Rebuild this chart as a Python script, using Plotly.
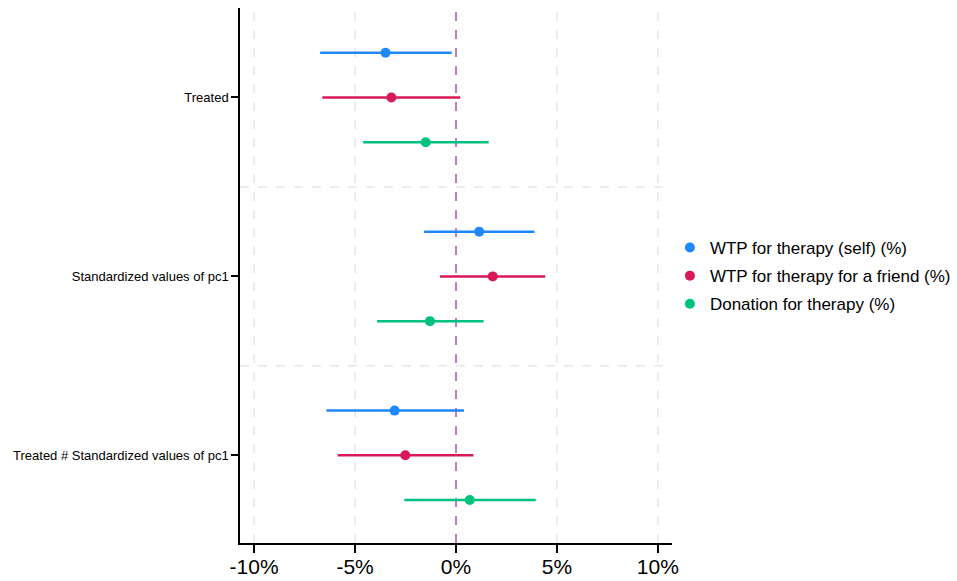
import plotly.graph_objects as go

categories = ["Treated", "Standardized values of pc1", "Treated # Standardized values of pc1"]
series_names = ["WTP for therapy (self) (%)", "WTP for therapy for a friend (%)", "Donation for therapy (%)"]
series_colors = ["#1f87ff", "#d9185a", "#00c280"]

# point estimates (%) per category, per series
est_self = [-3.49, 1.15, -3.04]
est_friend = [-3.20, 1.82, -2.51]
est_donation = [-1.50, -1.29, 0.68]

lo_self = [-6.73, -1.58, -6.42]
hi_self = [-0.21, 3.89, 0.40]
lo_friend = [-6.62, -0.79, -5.86]
hi_friend = [0.21, 4.42, 0.86]
lo_donation = [-4.60, -3.91, -2.56]
hi_donation = [1.62, 1.37, 3.95]

x_ticks = [-10, -5, 0, 5, 10]
x_tick_labels = ["-10%", "-5%", "0%", "5%", "10%"]

offsets = [-0.25, 0.0, 0.25]
ests = [est_self, est_friend, est_donation]
los = [lo_self, lo_friend, lo_donation]
his = [hi_self, hi_friend, hi_donation]

fig = go.Figure()
for k in range(3):
    ys = [i + offsets[k] for i in range(len(categories))]
    fig.add_trace(go.Scatter(
        x=ests[k], y=ys, mode="markers", name=series_names[k], legendgroup=f"g{k}",
        marker=dict(color=series_colors[k], size=10),
        error_x=dict(type="data", symmetric=False,
                     array=[h - e for h, e in zip(his[k], ests[k])],
                     arrayminus=[e - l for e, l in zip(ests[k], los[k])],
                     color=series_colors[k], thickness=2.5, width=0),
    ))

shapes = []
for t in x_ticks:
    if t == 0:
        continue
    shapes.append(dict(type="line", xref="x", yref="paper", x0=t, x1=t, y0=0, y1=1,
                       line=dict(color="#ececec", width=2, dash="dash"), layer="below"))
for yv in [0.5, 1.5]:
    shapes.append(dict(type="line", xref="paper", yref="y", x0=0, x1=0.995, y0=yv, y1=yv,
                       line=dict(color="#ececec", width=2, dash="dash"), layer="below"))
shapes.append(dict(type="line", xref="x", yref="paper", x0=0, x1=0, y0=0, y1=1,
                   line=dict(color="rgba(175,95,180,0.8)", width=2, dash="dash"), layer="below"))

fig.update_layout(
    width=957, height=581,
    margin=dict(l=240, r=285, t=8, b=38, autoexpand=False),
    paper_bgcolor="white", plot_bgcolor="white",
    font=dict(family="Liberation Sans, Arial, sans-serif", color="black"),
    shapes=shapes,
    showlegend=True,
    legend=dict(xref="container", yref="container", x=0.700, xanchor="left",
                y=0.525, yanchor="middle",
                font=dict(size=17), itemwidth=30, tracegroupgap=3,
                bgcolor="rgba(0,0,0,0)"),
    xaxis=dict(range=[-10.7, 10.7], tickvals=x_ticks, ticktext=x_tick_labels,
               showgrid=False, zeroline=False, showline=True, linecolor="black", linewidth=1.5,
               ticks="outside", ticklen=8, tickwidth=1.5, tickcolor="black",
               tickfont=dict(size=21), automargin=False, ticklabelstandoff=-4),
    yaxis=dict(range=[2.49, -0.5], tickvals=list(range(len(categories))), ticktext=categories,
               showgrid=False, zeroline=False, showline=True, linecolor="black", linewidth=1.5,
               ticks="outside", ticklen=7, tickwidth=1.5, tickcolor="black",
               tickfont=dict(size=13), automargin=False),
)

fig.write_html("out.html")
